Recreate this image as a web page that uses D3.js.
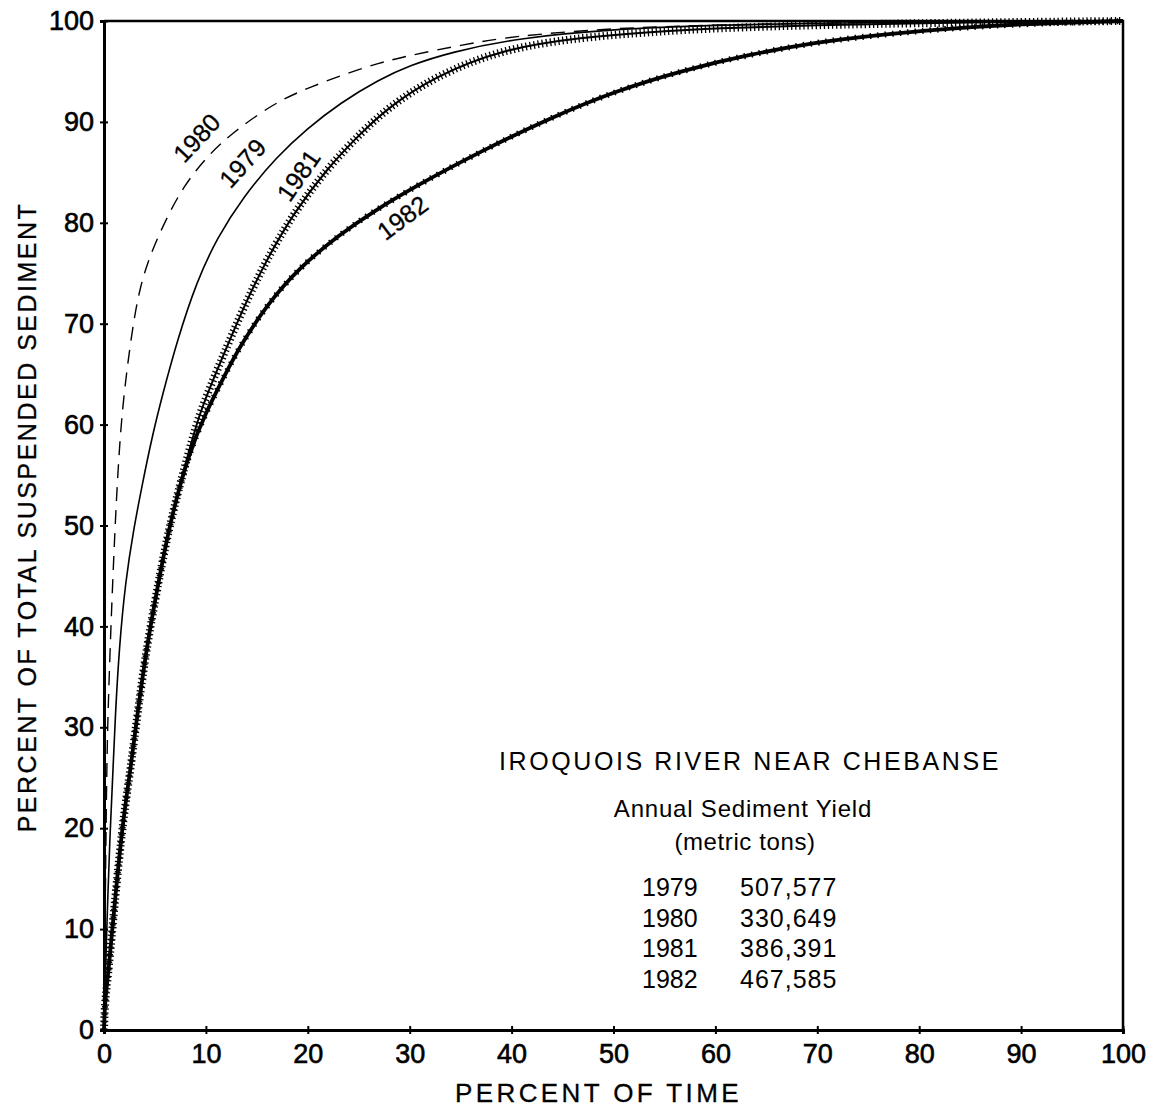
<!DOCTYPE html>
<html>
<head>
<meta charset="utf-8">
<script src="https://cdn.jsdelivr.net/npm/d3@7"></script>
<style>
  body { margin: 0; background: #fff; }
  text { font-family: "Liberation Sans", Arial, sans-serif; fill: #000; }
</style>
</head>
<body>
<script>
// cumulative curves, [percent of time, percent of sediment]
const s1979 = [[0,0],[0.2,8],[0.6,20],[0.9,26],[1.1,31],[1.5,38],[2.1,44.4],[2.9,49.6],[3.8,54.3],[4.7,58.7],[5.7,62.8],[7.2,68.4],[9.1,74.2],[11.1,78.5],[13.6,82.5],[17,86.6],[19.9,89.3],[23.2,91.9],[27,94.2],[30,95.6],[34,96.9],[40.5,98.3],[50,99.2],[60,99.6],[70,99.8],[80,99.9],[100,100]];
const s1980 = [[0,0],[0.1,10],[0.2,20],[0.3,28],[0.5,35],[0.85,44.6],[1.3,54.5],[1.8,62],[2.8,69.7],[3.5,73.5],[4.5,76.8],[6.2,80.6],[7.8,83.6],[10.1,86.6],[12.7,89],[16.6,91.8],[20,93.4],[26,95.6],[30,96.6],[35,97.6],[40,98.5],[50,99.3],[60,99.6],[70,99.8],[80,99.9],[100,100]];
const s1981 = [[0,0],[0.1,3],[0.4,5.3],[1.1,13.2],[1.9,21.1],[2.6,25.8],[3.3,31.5],[4.2,38],[5.2,43.6],[6.5,50.5],[8.4,57.6],[9.4,61.2],[11.1,65.4],[12.1,67.8],[14,72.3],[16,76.4],[18.5,80.8],[21.9,85.4],[25.3,89],[28,91.5],[32.3,94.4],[38.9,97.2],[47,98.4],[53.6,98.9],[60,99.3],[70,99.6],[80,99.8],[100,100]];
const s1982 = [[0,0],[0.1,3],[0.4,5.3],[1.1,13.2],[1.9,21.1],[2.6,25.8],[3.3,31.5],[4.2,38],[5.2,43.6],[6.5,50.5],[8.4,57.4],[10.1,61.4],[11.7,64.6],[13.3,67.7],[16,71.9],[19.2,75.6],[23.2,78.9],[26.4,81.1],[30.7,83.7],[37.2,87.2],[43.8,90.4],[50.3,93.1],[56.8,95.1],[63.4,96.7],[70,97.9],[75,98.5],[81,99.1],[85,99.4],[90,99.7],[100,100]];

// curve labels: [year, x, y, angle]
const curveLabels = [["1980",9.1,88.4,-47],["1979",13.6,85.9,-48],["1981",19.1,84.7,-55],["1982",29.3,80.5,-37]];

const xTicks = d3.range(0, 101, 10);
const yTicks = d3.range(0, 101, 10);

const yieldYears = ["1979","1980","1981","1982"];
const yieldTons = ["507,577","330,649","386,391","467,585"];

const width = 1153, height = 1112;

const x = d3.scaleLinear().domain([0, 100]).range([104, 1123]);
const y = d3.scaleLinear().domain([0, 100]).range([1030, 21]);

const svg = d3.select("body").append("svg")
    .attr("width", width)
    .attr("height", height);

const line = d3.line()
    .x(d => x(d[0]))
    .y(d => y(d[1]))
    .curve(d3.curveBasis);

// frame
svg.append("path")
    .attr("d", `M${x(0)},${y(100)}H${x(100)}V${y(0)}`)
    .attr("fill", "none")
    .attr("stroke", "#000")
    .attr("stroke-width", 2.5);

// curves
svg.append("path").datum(s1980)
    .attr("d", line).attr("fill", "none").attr("stroke", "#000")
    .attr("stroke-width", 1.4).attr("stroke-dasharray", "14,9");

svg.append("path").datum(s1979)
    .attr("d", line).attr("fill", "none").attr("stroke", "#000")
    .attr("stroke-width", 1.6);

svg.append("path").datum(s1982)
    .attr("d", line).attr("fill", "none").attr("stroke", "#000")
    .attr("stroke-width", 3.8);
svg.append("path").datum(s1982)
    .attr("d", line).attr("fill", "none").attr("stroke", "#000")
    .attr("stroke-width", 6).attr("stroke-dasharray", "1.5,6");

svg.append("path").datum(s1981)
    .attr("d", line).attr("fill", "none").attr("stroke", "#000")
    .attr("stroke-width", 2);
svg.append("path").datum(s1981)
    .attr("d", line).attr("fill", "none").attr("stroke", "#000")
    .attr("stroke-width", 8).attr("stroke-dasharray", "1.3,2.8");

svg.selectAll(".clabel")
    .data(curveLabels)
    .enter().append("text")
    .attr("class", "clabel")
    .attr("transform", d => `translate(${x(d[1])},${y(d[2])}) rotate(${d[3]})`)
    .attr("text-anchor", "middle")
    .attr("dy", "0.35em")
    .style("font-size", "25px")
    .attr("stroke", "#000").attr("stroke-width", 0.3)
    .text(d => d[0]);

// axes
const xAxis = svg.append("g")
    .attr("transform", `translate(0,${y(0)})`)
    .call(d3.axisBottom(x).tickValues(xTicks).tickSize(4).tickPadding(10));
xAxis.selectAll(".tick line").attr("y1", -4).attr("stroke-width", 2);
xAxis.select(".domain").attr("stroke-width", 3);

const yAxis = svg.append("g")
    .attr("transform", `translate(${x(0)},0)`)
    .call(d3.axisLeft(y).tickValues(yTicks).tickSize(4).tickPadding(6));
yAxis.selectAll(".tick line").attr("x1", 4).attr("stroke-width", 2);
yAxis.select(".domain").attr("stroke-width", 3);

svg.selectAll(".tick text")
    .style("font-size", "27px")
    .style("font-family", "'Liberation Sans', Arial, sans-serif")
    .attr("stroke", "#000").attr("stroke-width", 0.6);

// axis titles
svg.append("text")
    .attr("x", (x(0) + x(100)) / 2 - 15)
    .attr("y", 1102)
    .attr("text-anchor", "middle")
    .style("font-size", "26px")
    .style("letter-spacing", "3.4px")
    .attr("stroke", "#000").attr("stroke-width", 0.3)
    .text("PERCENT OF TIME");

svg.append("text")
    .attr("transform", `translate(36,${517}) rotate(-90)`)
    .attr("text-anchor", "middle")
    .style("font-size", "25px")
    .style("letter-spacing", "2.5px")
    .attr("stroke", "#000").attr("stroke-width", 0.3)
    .text("PERCENT OF TOTAL SUSPENDED SEDIMENT");

// annotation block
svg.append("text")
    .attr("x", 750).attr("y", 770)
    .attr("text-anchor", "middle")
    .style("font-size", "25px")
    .style("letter-spacing", "2.6px")
    .text("IROQUOIS RIVER NEAR CHEBANSE");

svg.append("text")
    .attr("x", 743).attr("y", 817)
    .attr("text-anchor", "middle")
    .style("font-size", "24px")
    .style("letter-spacing", "0.8px")
    .text("Annual Sediment Yield");

svg.append("text")
    .attr("x", 745).attr("y", 850)
    .attr("text-anchor", "middle")
    .style("font-size", "24px")
    .style("letter-spacing", "0.6px")
    .text("(metric tons)");

const rows = svg.append("g").selectAll("g")
    .data(yieldYears)
    .enter().append("g")
    .attr("transform", (d, i) => `translate(0,${896 + i * 30.5})`);

rows.append("text")
    .attr("x", 642)
    .style("font-size", "25px")
    .text(d => d);

rows.append("text")
    .attr("x", 740)
    .style("font-size", "25px")
    .style("letter-spacing", "1px")
    .text((d, i) => yieldTons[i]);
</script>
</body>
</html>
